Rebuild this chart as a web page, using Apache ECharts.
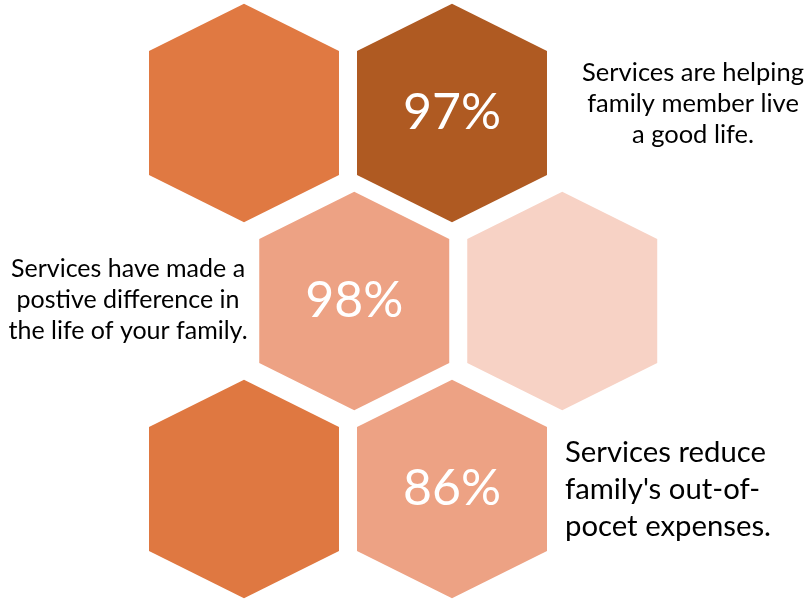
<!DOCTYPE html>
<html>
<head>
<meta charset="utf-8">
<script src="https://cdn.jsdelivr.net/npm/echarts@6/dist/echarts.min.js"></script>
<style>
html,body{margin:0;padding:0;background:#fff;}
#chart{width:811px;height:600px;}
</style>
</head>
<body>
<div id="chart"></div>
<script>
// Honeycomb layout (column / row index) and values
const hexCols = [0, 1, 0.53, 1.53, 0, 1];
const hexRows = [0, 0, 1, 1, 2, 2];
const hexValues = [null, 97, 98, null, null, 86];
const hexColors = ['#E07942', '#AF5A22', '#EDA284', '#F7D2C5', '#DF7841', '#EDA284'];
const captions = [
  'Services are helping\nfamily member live\na good life.',
  'Services have made a\npostive difference in\nthe life of your family.',
  "Services reduce\nfamily's out-of-\npocet expenses."
];

const FONT = 'Lato, "Open Sans", sans-serif';
const chart = echarts.init(document.getElementById('chart'), null, {renderer: 'canvas'});

const data = hexCols.map((c, i) => [c, hexRows[i], hexValues[i] == null ? '-' : hexValues[i], i]);

chart.setOption({
  backgroundColor: '#ffffff',
  animation: false,
  grid: {left: 244, top: 113, width: 208, height: 376},
  xAxis: {type: 'value', min: 0, max: 1, show: false},
  yAxis: {type: 'value', min: 0, max: 2, inverse: true, show: false},
  series: [{
    type: 'custom',
    clip: false,
    data: data,
    renderItem: function (params, api) {
      const idx = api.value(3);
      const c = api.coord([api.value(0), api.value(1)]);
      const s = api.size([1, 1]);
      const hw = s[0] * 0.4567, hh = s[1] * 0.5805, sh = s[1] * 0.33;
      const x = c[0], y = c[1];
      const pts = [[x, y - hh], [x + hw, y - sh], [x + hw, y + sh], [x, y + hh], [x - hw, y + sh], [x - hw, y - sh]];
      const children = [{type: 'polygon', shape: {points: pts}, style: {fill: hexColors[idx]}}];
      const v = hexValues[idx];
      if (v != null) {
        children.push({
          type: 'text',
          style: {
            x: x, y: y, text: v + '%', fill: '#ffffff',
            font: '50px ' + FONT, align: 'center', verticalAlign: 'middle'
          }
        });
      }
      return {type: 'group', children: children};
    }
  }],
  graphic: [
    {type: 'text', style: {x: 693, y: 104, text: captions[0], font: '25.5px ' + FONT, fill: '#000', align: 'center', verticalAlign: 'middle', lineHeight: 31}},
    {type: 'text', style: {x: 128, y: 300, text: captions[1], font: '25px ' + FONT, fill: '#000', align: 'center', verticalAlign: 'middle', lineHeight: 31}},
    {type: 'text', style: {x: 565, y: 490, text: captions[2], font: '29.3px ' + FONT, fill: '#000', align: 'left', verticalAlign: 'middle', lineHeight: 37}}
  ]
});
</script>
</body>
</html>
